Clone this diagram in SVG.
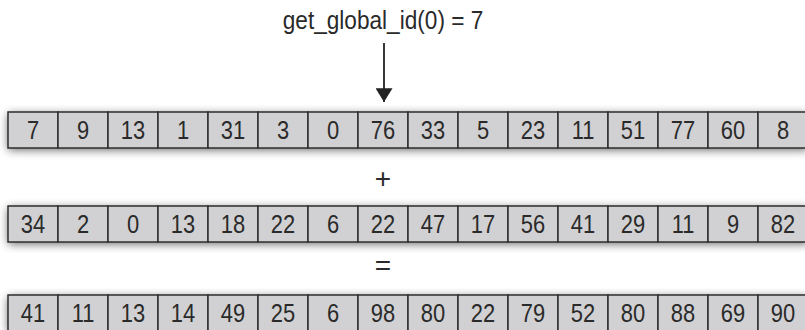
<svg xmlns="http://www.w3.org/2000/svg" width="805" height="330" viewBox="0 0 805 330">
<defs>
<filter id="sh" x="-5%" y="-80%" width="110%" height="260%">
<feGaussianBlur in="SourceAlpha" stdDeviation="5"/>
<feOffset dy="2" result="b"/>
<feComponentTransfer><feFuncA type="linear" slope="0.6"/></feComponentTransfer>
</filter>
<marker id="ah" markerWidth="21" markerHeight="17" refX="20" refY="10.5" orient="auto" markerUnits="userSpaceOnUse" viewBox="0 0 21 21">
<path d="M3,0 L20,10.5 L3,21 Z" fill="#222"/>
</marker>
</defs>
<style>
.c rect{fill:#d1d1d3;stroke:#2e2e2e;stroke-width:1.5}
text{font-family:"Liberation Sans",Arial,sans-serif;fill:#2a2a2a;text-anchor:middle}
.v{font-size:25.5px}
.t{font-size:26px}
.o{font-size:28px}
</style>
<g id="shadows">
<rect x="8" y="112" width="800" height="36" fill="#000" filter="url(#sh)"/>
<rect x="8" y="206" width="800" height="36" fill="#000" filter="url(#sh)"/>
<rect x="8" y="295" width="800" height="36" fill="#000" filter="url(#sh)"/>
</g>
<g id="title"><text class="t" transform="translate(383 29) scale(0.87 1)">get_global_id(0) = 7</text></g>
<g id="connectors"><line x1="384" y1="43" x2="384" y2="102" stroke="#222" stroke-width="1.8" marker-end="url(#ah)"/></g>
<g id="plus"><text class="o" x="383" y="188">+</text></g>
<g id="equals"><text class="o" x="383" y="275">=</text></g>
<g id="row-a" class="c">
<g id="a0"><rect x="8" y="112" width="50" height="36"/><text class="v" transform="translate(33 139) scale(0.86 1)">7</text></g>
<g id="a1"><rect x="58" y="112" width="50" height="36"/><text class="v" transform="translate(83 139) scale(0.86 1)">9</text></g>
<g id="a2"><rect x="108" y="112" width="50" height="36"/><text class="v" transform="translate(133 139) scale(0.86 1)">13</text></g>
<g id="a3"><rect x="158" y="112" width="50" height="36"/><text class="v" transform="translate(183 139) scale(0.86 1)">1</text></g>
<g id="a4"><rect x="208" y="112" width="50" height="36"/><text class="v" transform="translate(233 139) scale(0.86 1)">31</text></g>
<g id="a5"><rect x="258" y="112" width="50" height="36"/><text class="v" transform="translate(283 139) scale(0.86 1)">3</text></g>
<g id="a6"><rect x="308" y="112" width="50" height="36"/><text class="v" transform="translate(333 139) scale(0.86 1)">0</text></g>
<g id="a7"><rect x="358" y="112" width="50" height="36"/><text class="v" transform="translate(383 139) scale(0.86 1)">76</text></g>
<g id="a8"><rect x="408" y="112" width="50" height="36"/><text class="v" transform="translate(433 139) scale(0.86 1)">33</text></g>
<g id="a9"><rect x="458" y="112" width="50" height="36"/><text class="v" transform="translate(483 139) scale(0.86 1)">5</text></g>
<g id="a10"><rect x="508" y="112" width="50" height="36"/><text class="v" transform="translate(533 139) scale(0.86 1)">23</text></g>
<g id="a11"><rect x="558" y="112" width="50" height="36"/><text class="v" transform="translate(583 139) scale(0.86 1)">11</text></g>
<g id="a12"><rect x="608" y="112" width="50" height="36"/><text class="v" transform="translate(633 139) scale(0.86 1)">51</text></g>
<g id="a13"><rect x="658" y="112" width="50" height="36"/><text class="v" transform="translate(683 139) scale(0.86 1)">77</text></g>
<g id="a14"><rect x="708" y="112" width="50" height="36"/><text class="v" transform="translate(733 139) scale(0.86 1)">60</text></g>
<g id="a15"><rect x="758" y="112" width="50" height="36"/><text class="v" transform="translate(783 139) scale(0.86 1)">8</text></g>
</g>
<g id="row-b" class="c">
<g id="b0"><rect x="8" y="206" width="50" height="36"/><text class="v" transform="translate(33 233) scale(0.86 1)">34</text></g>
<g id="b1"><rect x="58" y="206" width="50" height="36"/><text class="v" transform="translate(83 233) scale(0.86 1)">2</text></g>
<g id="b2"><rect x="108" y="206" width="50" height="36"/><text class="v" transform="translate(133 233) scale(0.86 1)">0</text></g>
<g id="b3"><rect x="158" y="206" width="50" height="36"/><text class="v" transform="translate(183 233) scale(0.86 1)">13</text></g>
<g id="b4"><rect x="208" y="206" width="50" height="36"/><text class="v" transform="translate(233 233) scale(0.86 1)">18</text></g>
<g id="b5"><rect x="258" y="206" width="50" height="36"/><text class="v" transform="translate(283 233) scale(0.86 1)">22</text></g>
<g id="b6"><rect x="308" y="206" width="50" height="36"/><text class="v" transform="translate(333 233) scale(0.86 1)">6</text></g>
<g id="b7"><rect x="358" y="206" width="50" height="36"/><text class="v" transform="translate(383 233) scale(0.86 1)">22</text></g>
<g id="b8"><rect x="408" y="206" width="50" height="36"/><text class="v" transform="translate(433 233) scale(0.86 1)">47</text></g>
<g id="b9"><rect x="458" y="206" width="50" height="36"/><text class="v" transform="translate(483 233) scale(0.86 1)">17</text></g>
<g id="b10"><rect x="508" y="206" width="50" height="36"/><text class="v" transform="translate(533 233) scale(0.86 1)">56</text></g>
<g id="b11"><rect x="558" y="206" width="50" height="36"/><text class="v" transform="translate(583 233) scale(0.86 1)">41</text></g>
<g id="b12"><rect x="608" y="206" width="50" height="36"/><text class="v" transform="translate(633 233) scale(0.86 1)">29</text></g>
<g id="b13"><rect x="658" y="206" width="50" height="36"/><text class="v" transform="translate(683 233) scale(0.86 1)">11</text></g>
<g id="b14"><rect x="708" y="206" width="50" height="36"/><text class="v" transform="translate(733 233) scale(0.86 1)">9</text></g>
<g id="b15"><rect x="758" y="206" width="50" height="36"/><text class="v" transform="translate(783 233) scale(0.86 1)">82</text></g>
</g>
<g id="row-c" class="c">
<g id="c0"><rect x="8" y="295" width="50" height="36"/><text class="v" transform="translate(33 322) scale(0.86 1)">41</text></g>
<g id="c1"><rect x="58" y="295" width="50" height="36"/><text class="v" transform="translate(83 322) scale(0.86 1)">11</text></g>
<g id="c2"><rect x="108" y="295" width="50" height="36"/><text class="v" transform="translate(133 322) scale(0.86 1)">13</text></g>
<g id="c3"><rect x="158" y="295" width="50" height="36"/><text class="v" transform="translate(183 322) scale(0.86 1)">14</text></g>
<g id="c4"><rect x="208" y="295" width="50" height="36"/><text class="v" transform="translate(233 322) scale(0.86 1)">49</text></g>
<g id="c5"><rect x="258" y="295" width="50" height="36"/><text class="v" transform="translate(283 322) scale(0.86 1)">25</text></g>
<g id="c6"><rect x="308" y="295" width="50" height="36"/><text class="v" transform="translate(333 322) scale(0.86 1)">6</text></g>
<g id="c7"><rect x="358" y="295" width="50" height="36"/><text class="v" transform="translate(383 322) scale(0.86 1)">98</text></g>
<g id="c8"><rect x="408" y="295" width="50" height="36"/><text class="v" transform="translate(433 322) scale(0.86 1)">80</text></g>
<g id="c9"><rect x="458" y="295" width="50" height="36"/><text class="v" transform="translate(483 322) scale(0.86 1)">22</text></g>
<g id="c10"><rect x="508" y="295" width="50" height="36"/><text class="v" transform="translate(533 322) scale(0.86 1)">79</text></g>
<g id="c11"><rect x="558" y="295" width="50" height="36"/><text class="v" transform="translate(583 322) scale(0.86 1)">52</text></g>
<g id="c12"><rect x="608" y="295" width="50" height="36"/><text class="v" transform="translate(633 322) scale(0.86 1)">80</text></g>
<g id="c13"><rect x="658" y="295" width="50" height="36"/><text class="v" transform="translate(683 322) scale(0.86 1)">88</text></g>
<g id="c14"><rect x="708" y="295" width="50" height="36"/><text class="v" transform="translate(733 322) scale(0.86 1)">69</text></g>
<g id="c15"><rect x="758" y="295" width="50" height="36"/><text class="v" transform="translate(783 322) scale(0.86 1)">90</text></g>
</g>
</svg>
